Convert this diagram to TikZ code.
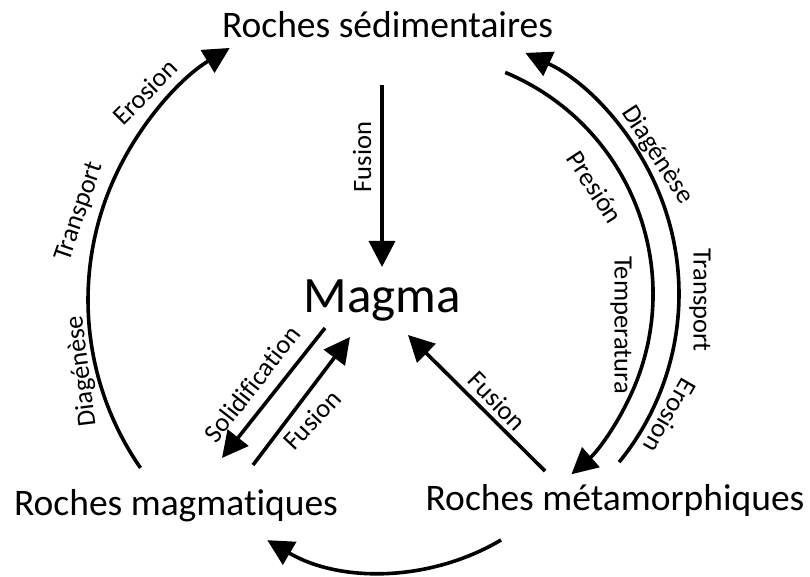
\documentclass[tikz,border=0pt]{standalone}
\usepackage{fontspec}
\setmainfont{Carlito}[Ligatures=NoCommon]
\usetikzlibrary{arrows.meta}
\tikzset{
  big/.style={font=\fontsize{37.5}{42}\selectfont, inner sep=0pt, anchor=base},
  huge/.style={font=\fontsize{51}{56}\selectfont, inner sep=0pt, anchor=base},
  lbl/.style={font=\fontsize{26.5}{30}\selectfont, inner sep=0pt},
  arr/.style={line width=3.6pt, -{Triangle[length=26pt,width=26pt]}}
}
\begin{document}
\begin{tikzpicture}[x=1pt,y=1pt]
\useasboundingbox (0,0) rectangle (810,576);
% main nodes
\node[big] (sed) at (387.5,538.5) {Roches sédimentaires};
\node[huge] (mag) at (382.5,263) {Magma};
\node[big] (ign) at (176,61) {Roches magmatiques};
\node[big] (met) at (615,66) {Roches métamorphiques};
% circle centres
\coordinate (cL) at (383,276);
\coordinate (cR) at (413,282);
\coordinate (cB) at (384,234);
% arcs
\draw[arr] ([shift={(214.7:295)}]cL) arc[start angle=214.7, end angle=121.3, radius=295];
\draw[arr] ([shift={(-39.2:266)}]cR) arc[start angle=-39.2, end angle=65, radius=266];
\draw[arr] ([shift={(67.4:240)}]cR) arc[start angle=67.4, end angle=-48.7, radius=240];
\draw[arr] ([shift={(-59.4:230)}]cB) arc[start angle=-59.4, end angle=-120.5, radius=230];
% straight arrows
\coordinate (f1a) at (382,491); \coordinate (f1b) at (382,309);
\coordinate (s1a) at (325,248); \coordinate (s1b) at (222,118);
\coordinate (f2a) at (253,111); \coordinate (f2b) at (350,239);
\coordinate (f3a) at (545,105); \coordinate (f3b) at (408,241);
\draw[arr] (f1a) -- (f1b);
\draw[arr] (s1a) -- (s1b);
\draw[arr] (f2a) -- (f2b);
\draw[arr] (f3a) -- (f3b);
% labels
\node[lbl, rotate=90] (l1) at (362,419) {Fusion};
\node[lbl, rotate=45] (l2) at (145,484) {Erosion};
\node[lbl, rotate=71] (l3) at (80,364) {Transport};
\node[lbl, rotate=97] (l4) at (82,205) {Diagénèse};
\node[lbl, rotate=-57] (l5) at (657,421) {Diagénèse};
\node[lbl, rotate=-57] (l6) at (595,389) {Presión};
\node[lbl, rotate=-90] (l7) at (621,251) {Temperatura};
\node[lbl, rotate=-90] (l8) at (700,276) {Transport};
\node[lbl, rotate=-120] (l9) at (670,160) {Erosion};
\node[lbl, rotate=52] (l10) at (252,192) {Solidification};
\node[lbl, rotate=47] (l11) at (312,156) {Fusion};
\node[lbl, rotate=-46] (l12) at (497,175) {Fusion};
\end{tikzpicture}
\end{document}
